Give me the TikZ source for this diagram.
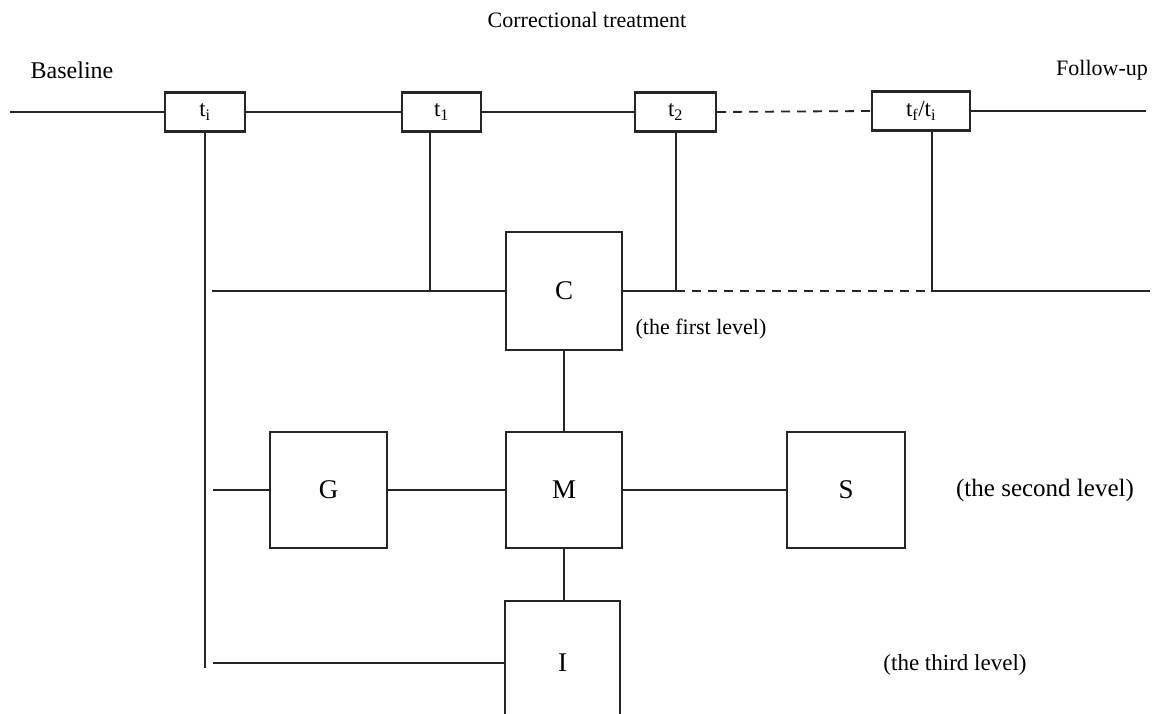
\documentclass[tikz,border=0pt]{standalone}
\usepackage{fontspec}
\setmainfont{Liberation Serif}
\begin{document}
\begin{tikzpicture}[x=1pt,y=-1pt,
  ln/.style={line width=2.2pt, draw=black!85},
  dln/.style={line width=1.8pt, draw=black!85, dash pattern=on 9pt off 7pt},
  tbox/.style={draw=black!85, line width=2.2pt, minimum width=80pt, minimum height=39pt, inner sep=0pt, font=\fontsize{23}{26}\selectfont, fill=white},
  bigbox/.style={draw=black!85, line width=2pt, minimum width=116pt, minimum height=116pt, inner sep=0pt, font=\fontsize{27}{30}\selectfont},
  lab/.style={font=\fontsize{22}{25}\selectfont, inner sep=0pt}]
\clip (0,0) rectangle (1159,713);
\fill[white] (0,0) rectangle (1159,713);
% labels
\node[lab] (title) at (587,20) {Correctional treatment};
\node[lab, font=\fontsize{24}{27}\selectfont] (base) at (72,70) {Baseline};
\node[lab] (fol) at (1102,70) {Follow-up};
% time boxes
\node[tbox] (ti) at (205,112) {t\textsubscript{i}};
\node[tbox, minimum width=79pt] (t1) at (441.5,112) {t\textsubscript{1}};
\node[tbox, minimum width=81pt] (t2) at (675.5,112) {t\textsubscript{2}};
\node[tbox, minimum width=98pt] (tf) at (921,111) {t\textsubscript{f}/t\textsubscript{i}};
\coordinate (L) at (10,112);
\coordinate (R) at (1146,111);
\draw[ln] (L) -- (ti.west);
\draw[ln] (ti.east) -- (t1.west);
\draw[ln] (t1.east) -- (t2.west);
\draw[dln] (t2.east) -- (tf.west);
\draw[ln] (tf.east) -- (R);
% big boxes
\node[bigbox, minimum height=118pt] (C) at (564,291) {C};
\node[bigbox] (M) at (564,490) {M};
\node[bigbox, minimum width=117pt] (G) at (328.5,490) {G};
\node[bigbox, minimum width=118pt] (S) at (846,490) {S};
\node[bigbox, minimum width=115pt, minimum height=124pt] (I) at (562.5,663) {I};
% level labels
\node[lab] (l1) at (701,329) {(the first level)};
\node[lab, font=\fontsize{25}{28}\selectfont] (l2) at (1045,490) {(the second level)};
\node[lab, font=\fontsize{23}{26}\selectfont] (l3) at (955,665) {(the third level)};
% junctions
\coordinate (vb) at (205,668);
\coordinate (h1) at (212,291);
\coordinate (j1) at (430,291);
\coordinate (j2) at (676,291);
\coordinate (j3) at (932,291);
\coordinate (R2) at (1150,289);
\coordinate (h2) at (213,490);
\coordinate (h3) at (213,663);
% connectors
\draw[ln] (ti.south) -- (vb);
\draw[ln] (h1) -- (C.west);
\draw[ln] (t1.south -| j1) -- (j1);
\draw[ln] (C.east) -- (j2);
\draw[ln] (t2.south -| j2) -- (j2);
\draw[dln] (j2) -- (j3);
\draw[ln] (tf.south -| j3) -- (j3) -- (R2 |- j3);
\draw[ln] (C.south) -- (M.north);
\draw[ln] (h2) -- (G.west);
\draw[ln] (G.east) -- (M.west);
\draw[ln] (M.east) -- (S.west);
\draw[ln] (M.south) -- (M.south |- I.north);
\draw[ln] (h3) -- (I.west);
\end{tikzpicture}
\end{document}
